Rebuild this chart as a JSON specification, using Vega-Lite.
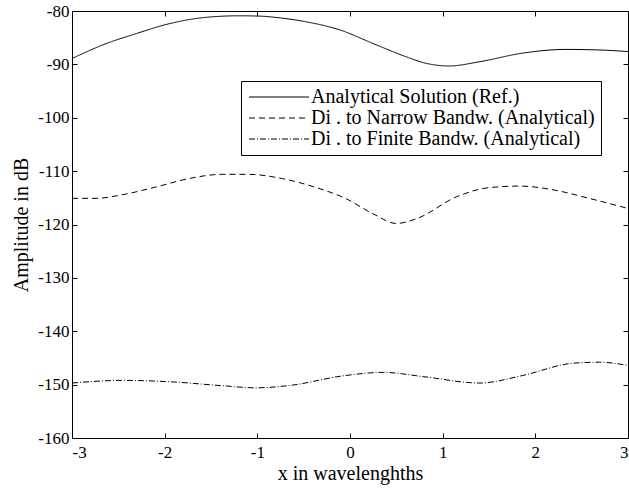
{
  "$schema": "https://vega.github.io/schema/vega-lite/v6.json",
  "width": 556,
  "height": 427,
  "autosize": {"type": "none"},
  "padding": {"left": 72, "top": 11, "right": 1, "bottom": 51},
  "background": "white",
  "config": {
    "view": {"stroke": "black", "strokeWidth": 1},
    "font": "Liberation Serif",
    "axis": {
      "grid": false,
      "domainColor": "black",
      "domainWidth": 1,
      "tickColor": "black",
      "tickSize": -5,
      "tickWidth": 1,
      "labelColor": "black",
      "labelFont": "Liberation Serif",
      "labelFontSize": 17,
      "titleFont": "Liberation Serif",
      "titleFontSize": 20,
      "titleFontWeight": "normal",
      "titleColor": "black"
    },
    "legend": {
      "symbolStrokeColor": "black",
      "symbolStrokeWidth": 1
    }
  },
  "data": {
    "values": [
      {"s": "Analytical Solution (Ref.)", "x": -3.0, "y": -88.9},
      {"s": "Analytical Solution (Ref.)", "x": -2.63, "y": -86.1},
      {"s": "Analytical Solution (Ref.)", "x": -2.3, "y": -84.2},
      {"s": "Analytical Solution (Ref.)", "x": -2.0, "y": -82.6},
      {"s": "Analytical Solution (Ref.)", "x": -1.56, "y": -81.2},
      {"s": "Analytical Solution (Ref.)", "x": -1.2, "y": -80.9},
      {"s": "Analytical Solution (Ref.)", "x": -0.99, "y": -80.95},
      {"s": "Analytical Solution (Ref.)", "x": -0.75, "y": -81.3},
      {"s": "Analytical Solution (Ref.)", "x": -0.48, "y": -82.0},
      {"s": "Analytical Solution (Ref.)", "x": -0.1, "y": -83.6},
      {"s": "Analytical Solution (Ref.)", "x": 0.25, "y": -86.1},
      {"s": "Analytical Solution (Ref.)", "x": 0.61, "y": -88.6},
      {"s": "Analytical Solution (Ref.)", "x": 0.82, "y": -89.8},
      {"s": "Analytical Solution (Ref.)", "x": 1.07, "y": -90.3},
      {"s": "Analytical Solution (Ref.)", "x": 1.4, "y": -89.5},
      {"s": "Analytical Solution (Ref.)", "x": 1.86, "y": -87.9},
      {"s": "Analytical Solution (Ref.)", "x": 2.33, "y": -87.2},
      {"s": "Analytical Solution (Ref.)", "x": 2.69, "y": -87.3},
      {"s": "Analytical Solution (Ref.)", "x": 3.0, "y": -87.6},
      {"s": "Di . to Narrow Bandw. (Analytical)", "x": -3.0, "y": -115.1},
      {"s": "Di . to Narrow Bandw. (Analytical)", "x": -2.74, "y": -115.1},
      {"s": "Di . to Narrow Bandw. (Analytical)", "x": -2.45, "y": -114.4},
      {"s": "Di . to Narrow Bandw. (Analytical)", "x": -2.1, "y": -113.0},
      {"s": "Di . to Narrow Bandw. (Analytical)", "x": -1.74, "y": -111.4},
      {"s": "Di . to Narrow Bandw. (Analytical)", "x": -1.38, "y": -110.6},
      {"s": "Di . to Narrow Bandw. (Analytical)", "x": -1.1, "y": -110.6},
      {"s": "Di . to Narrow Bandw. (Analytical)", "x": -0.73, "y": -111.4},
      {"s": "Di . to Narrow Bandw. (Analytical)", "x": -0.38, "y": -113.0},
      {"s": "Di . to Narrow Bandw. (Analytical)", "x": -0.05, "y": -115.1},
      {"s": "Di . to Narrow Bandw. (Analytical)", "x": 0.25, "y": -118.0},
      {"s": "Di . to Narrow Bandw. (Analytical)", "x": 0.5, "y": -119.8},
      {"s": "Di . to Narrow Bandw. (Analytical)", "x": 0.72, "y": -118.9},
      {"s": "Di . to Narrow Bandw. (Analytical)", "x": 1.15, "y": -114.8},
      {"s": "Di . to Narrow Bandw. (Analytical)", "x": 1.5, "y": -113.1},
      {"s": "Di . to Narrow Bandw. (Analytical)", "x": 1.83, "y": -112.8},
      {"s": "Di . to Narrow Bandw. (Analytical)", "x": 2.22, "y": -113.6},
      {"s": "Di . to Narrow Bandw. (Analytical)", "x": 2.58, "y": -115.1},
      {"s": "Di . to Narrow Bandw. (Analytical)", "x": 3.0, "y": -117.0},
      {"s": "Di . to Finite Bandw. (Analytical)", "x": -3.0, "y": -149.7},
      {"s": "Di . to Finite Bandw. (Analytical)", "x": -2.45, "y": -149.2},
      {"s": "Di . to Finite Bandw. (Analytical)", "x": -1.91, "y": -149.5},
      {"s": "Di . to Finite Bandw. (Analytical)", "x": -1.38, "y": -150.2},
      {"s": "Di . to Finite Bandw. (Analytical)", "x": -1.02, "y": -150.6},
      {"s": "Di . to Finite Bandw. (Analytical)", "x": -0.67, "y": -150.2},
      {"s": "Di . to Finite Bandw. (Analytical)", "x": -0.05, "y": -148.3},
      {"s": "Di . to Finite Bandw. (Analytical)", "x": 0.36, "y": -147.7},
      {"s": "Di . to Finite Bandw. (Analytical)", "x": 0.79, "y": -148.5},
      {"s": "Di . to Finite Bandw. (Analytical)", "x": 1.4, "y": -149.7},
      {"s": "Di . to Finite Bandw. (Analytical)", "x": 1.86, "y": -148.3},
      {"s": "Di . to Finite Bandw. (Analytical)", "x": 2.4, "y": -146.0},
      {"s": "Di . to Finite Bandw. (Analytical)", "x": 2.69, "y": -145.8},
      {"s": "Di . to Finite Bandw. (Analytical)", "x": 3.0, "y": -146.4}
    ]
  },
  "layer": [
    {
      "mark": {"type": "line", "interpolate": "monotone", "color": "black", "strokeWidth": 1},
      "encoding": {
        "x": {
          "field": "x", "type": "quantitative",
          "scale": {"domain": [-3, 3], "nice": false},
          "axis": {"orient": "bottom", "values": [-3, -2, -1, 0, 1, 2, 3], "title": "x in wavelenghths", "labelPadding": 11, "titlePadding": 3, "labelExpr": "replace(datum.label, '−', '-')"}
        },
        "y": {
          "field": "y", "type": "quantitative",
          "scale": {"domain": [-160, -80], "nice": false, "zero": false},
          "axis": {"orient": "left", "values": [-160, -150, -140, -130, -120, -110, -100, -90, -80], "title": "Amplitude in dB", "labelPadding": 8, "titlePadding": 6, "labelExpr": "replace(datum.label, '−', '-')"}
        },
        "strokeDash": {
          "field": "s", "type": "nominal",
          "sort": ["Analytical Solution (Ref.)", "Di . to Narrow Bandw. (Analytical)", "Di . to Finite Bandw. (Analytical)"],
          "scale": {
            "domain": ["Analytical Solution (Ref.)", "Di . to Narrow Bandw. (Analytical)", "Di . to Finite Bandw. (Analytical)"],
            "range": [[1, 0], [6, 4], [6, 2, 1, 2]]
          },
          "legend": {
            "orient": "none",
            "legendX": 169,
            "legendY": 70,
            "title": null,
            "strokeColor": "black",
            "fillColor": "white",
            "padding": 6,
            "symbolType": "M-1,0H6.5",
            "symbolSize": 256,
            "symbolStrokeColor": "black",
            "symbolFillColor": "transparent",
            "labelFont": "Liberation Serif",
            "labelFontSize": 20,
            "labelColor": "black",
            "labelLimit": 500,
            "labelOffset": 44,
            "rowPadding": 1
          }
        }
      }
    },
    {
      "mark": {"type": "line", "opacity": 0},
      "encoding": {
        "x": {
          "field": "x", "type": "quantitative",
          "scale": {"domain": [-3, 3], "nice": false},
          "axis": {"orient": "top", "values": [-3, -2, -1, 0, 1, 2, 3], "labels": false, "title": null}
        },
        "y": {
          "field": "y", "type": "quantitative",
          "scale": {"domain": [-160, -80], "nice": false, "zero": false},
          "axis": {"orient": "right", "values": [-160, -150, -140, -130, -120, -110, -100, -90, -80], "labels": false, "title": null}
        },
        "detail": {"field": "s", "type": "nominal"}
      }
    }
  ],
  "resolve": {"axis": {"x": "independent", "y": "independent"}}
}
